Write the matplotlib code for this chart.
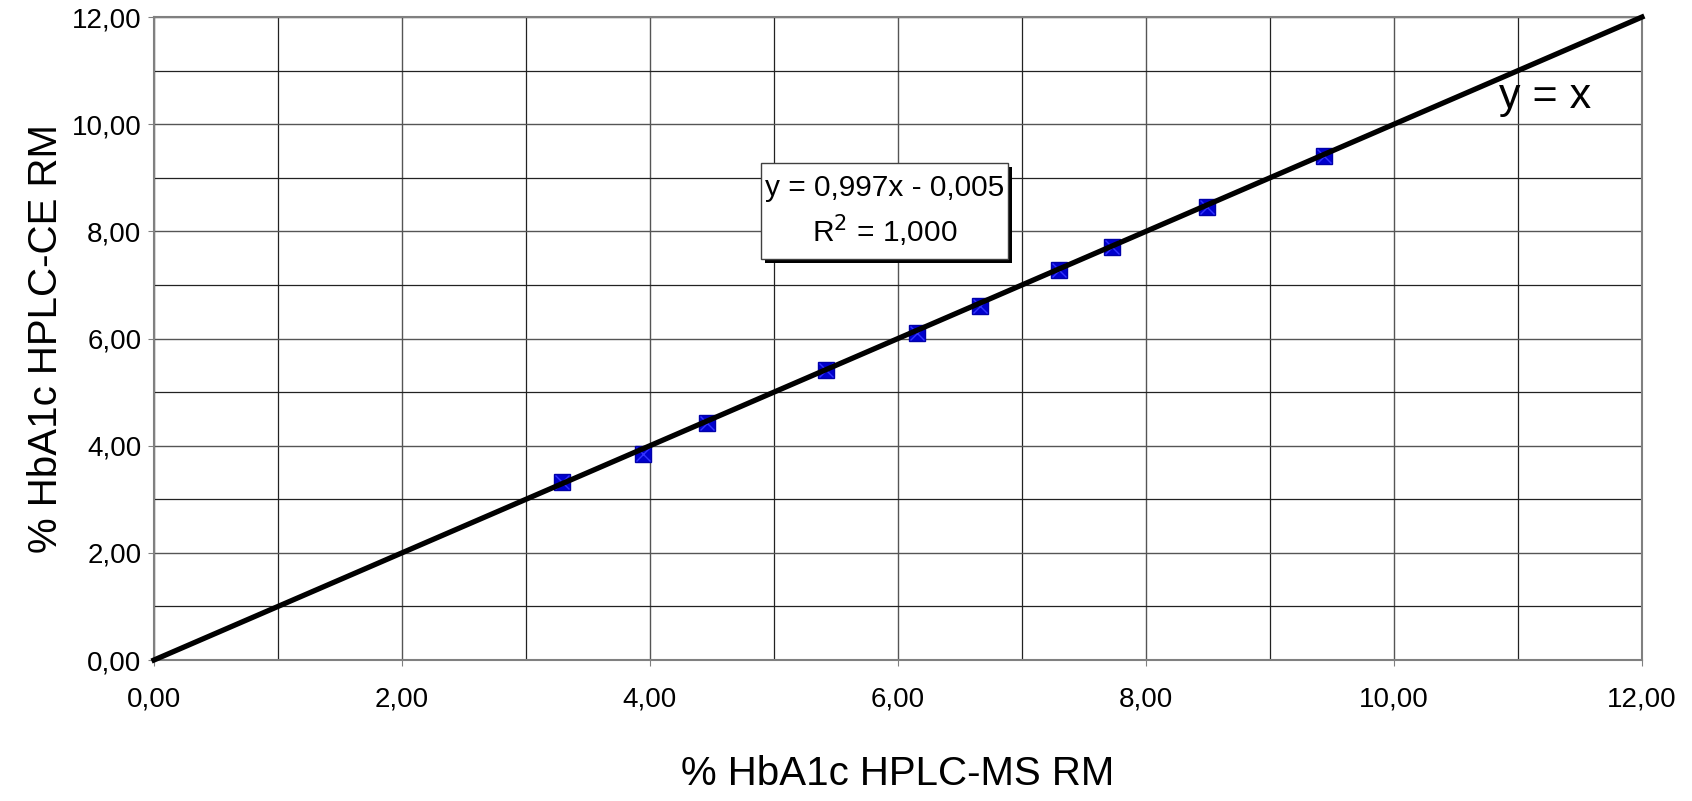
import matplotlib.pyplot as plt
from matplotlib.patches import Rectangle
from matplotlib.ticker import MultipleLocator, FuncFormatter

plt.rcParams['font.family'] = ['Liberation Sans', 'DejaVu Sans']

# HPLC-MS RM (x) vs HPLC-CE RM (y)
ms_rm = [3.29, 3.94, 4.46, 5.42, 6.15, 6.66, 7.30, 7.73, 8.49, 9.44]
ce_rm = [3.33, 3.85, 4.42, 5.42, 6.11, 6.61, 7.28, 7.70, 8.45, 9.40]
ident = [0.0, 12.0]

fig = plt.figure(figsize=(16.92, 8.01), dpi=100)
ax = fig.add_axes([0.0910, 0.176, 0.8794, 0.8027])

ax.set_xlim(0, 12)
ax.set_ylim(0, 12)
ax.xaxis.set_major_locator(MultipleLocator(2))
ax.yaxis.set_major_locator(MultipleLocator(2))
ax.xaxis.set_minor_locator(MultipleLocator(1))
ax.yaxis.set_minor_locator(MultipleLocator(1))
fmt = FuncFormatter(lambda v, p: f'{v:.2f}'.replace('.', ','))
ax.xaxis.set_major_formatter(fmt)
ax.yaxis.set_major_formatter(fmt)

ax.grid(True, which='major', color='#555555', lw=1.0)
ax.grid(True, which='minor', color='#222222', lw=0.9)
ax.set_axisbelow(True)
for s in ax.spines.values():
    s.set_color('#808080')
    s.set_linewidth(1.5)
ax.tick_params(which='major', length=4, color='#808080', labelsize=20, pad=5)
ax.tick_params(axis='x', which='major', pad=15)
ax.tick_params(which='minor', length=0)

ax.plot(ms_rm, ce_rm, ls='none', marker='s', ms=11, mfc='#0000cc', mec='#0000aa', zorder=3)
ax.plot(ms_rm, ce_rm, ls='none', marker='x', ms=10, mew=1.0, color='#3333ff', zorder=3)
ax.plot(ident, ident, color='black', lw=3.8, zorder=4, clip_on=False)

ax.text(11.22, 10.5, 'y = x', fontsize=31, ha='center', va='center', zorder=5)

# equation box with shadow
ax.add_patch(Rectangle((4.927, 7.405), 1.992, 1.8, facecolor='black', edgecolor='none', zorder=5))
ax.add_patch(Rectangle((4.895, 7.48), 1.992, 1.8, facecolor='white', edgecolor='#404040', lw=1.0, zorder=6))
ax.text(5.89, 8.38, 'y = 0,997x - 0,005\nR$^2$ = 1,000', fontsize=21.5, ha='center', va='center',
        linespacing=1.35, zorder=7)

ax.set_xlabel('% HbA1c HPLC-MS RM', fontsize=29, labelpad=31)
ax.set_ylabel('% HbA1c HPLC-CE RM', fontsize=29, labelpad=5)

fig.savefig('out.png', dpi=100)
